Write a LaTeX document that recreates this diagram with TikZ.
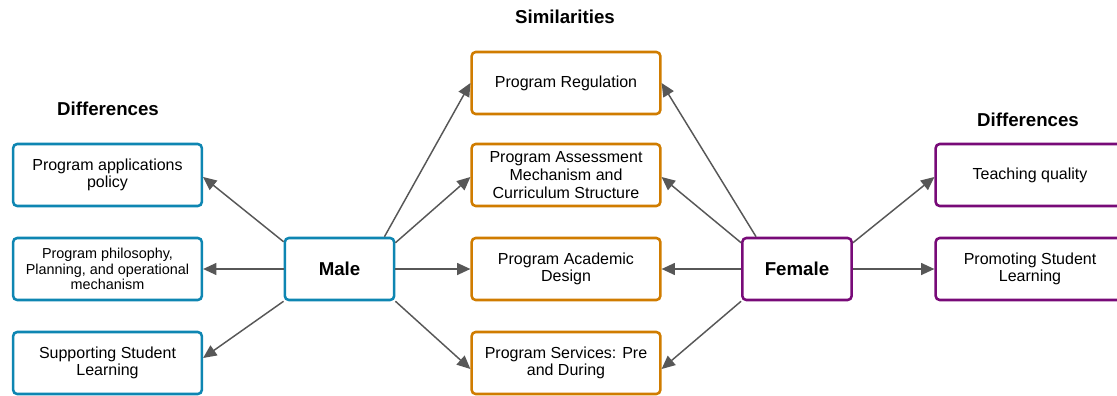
\documentclass[tikz,border=0pt]{standalone}
\usepackage{fontspec}
\setmainfont{Liberation Sans}
\usetikzlibrary{arrows.meta,calc}
\definecolor{maleblue}{HTML}{0E86B2}
\definecolor{simorange}{HTML}{D07C00}
\definecolor{femalepurple}{HTML}{780A78}
\definecolor{linkgray}{HTML}{575757}

\begin{document}
\begin{tikzpicture}[x=0.75pt,y=-0.75pt,
    box/.style={draw,line width=1.9pt,rounded corners=3pt,fill=white,
        minimum width=141.5pt,minimum height=46.5pt,align=center,inner sep=2pt,
        font=\fontsize{12}{13.2}\selectfont},
    diffmale/.style={box,draw=maleblue},
    similar/.style={box,draw=simorange},
    difffemale/.style={box,draw=femalepurple},
    hub/.style={box,minimum width=82pt,font=\fontsize{14}{16}\selectfont\bfseries},
    heading/.style={font=\fontsize{14}{16}\selectfont\bfseries},
    link/.style={-{Triangle[length=10pt,width=9pt]},draw=linkgray,line width=1.1pt}]
    \useasboundingbox (0,0) rectangle (1117,396);
    \node[heading] (ldiff) at (108,109) {Differences};
    \node[heading] (sim) at (565,17) {Similarities};
    \node[heading] (rdiff) at (1028,120) {Differences};
    \node[diffmale] (policy) at (107.5,175) {Program applications\\policy};
    \node[diffmale,font=\fontsize{10.8}{11.8}\selectfont] (philosophy) at (107.5,269)
        {Program philosophy,\\Planning, and operational\\mechanism};
    \node[diffmale] (supporting) at (107.5,363) {Supporting Student\\Learning};
    \node[hub,draw=maleblue] (male) at (339.5,269) {Male};
    \node[similar] (regulation) at (566,83) {Program Regulation};
    \node[similar] (assessment) at (566,175) {Program Assessment\\Mechanism and\\Curriculum Structure};
    \node[similar] (academic) at (566,269) {Program Academic\\Design};
    \node[similar] (services) at (566,363) {Program Services: Pre\\and During};
    \node[hub,draw=femalepurple] (female) at (797,269) {Female};
    \node[difffemale] (teaching) at (1030,175) {Teaching quality};
    \node[difffemale] (promoting) at (1030,269) {Promoting Student\\Learning};
    \draw[link] ($(male.north west)+(0,5)$) -- ($(policy.east)+(0,2)$);
    \draw[link] (male.west) -- (philosophy.east);
    \draw[link] (male.south west) -- ($(supporting.east)+(0,-5)$);
    \draw[link] ($(male.north east)+(-11,0)$) -- (regulation.west);
    \draw[link] ($(male.north east)+(0,6)$) -- ($(assessment.west)+(0,2)$);
    \draw[link] (male.east) -- (academic.west);
    \draw[link] (male.south east) -- ($(services.west)+(0,6)$);
    \draw[link] ($(female.north west)+(15,0)$) -- (regulation.east);
    \draw[link] ($(female.north west)+(0,6)$) -- ($(assessment.east)+(0,2)$);
    \draw[link] (female.west) -- (academic.east);
    \draw[link] (female.south west) -- ($(services.east)+(0,6)$);
    \draw[link] ($(female.north east)+(0,6)$) -- ($(teaching.west)+(0,2)$);
    \draw[link] (female.east) -- (promoting.west);
\end{tikzpicture}
\end{document}
